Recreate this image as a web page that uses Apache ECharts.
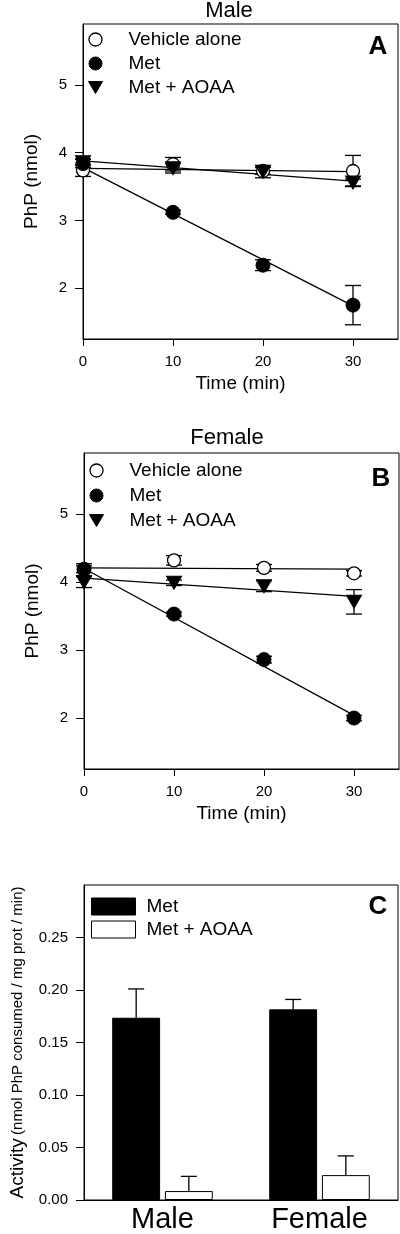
<!DOCTYPE html>
<html>
<head>
<meta charset="utf-8">
<script src="https://cdn.jsdelivr.net/npm/echarts@6/dist/echarts.min.js"></script>
<style>html,body{margin:0;padding:0;background:#fff}#c{width:400px;height:1234px}</style>
</head>
<body>
<div id="c"></div>
<script>
// ---- data ----
const times = [0, 10, 20, 30];
const xTicks = [0, 10, 20, 30];
const yTicksAB = [2, 3, 4, 5];
const yTicksC = [0, 0.05, 0.10, 0.15, 0.20, 0.25];

// Panel A (Male)
const maleVehicle = [3.74, 3.83, 3.73, 3.73];
const maleVehicleErr = [0.09, 0.10, 0.05, 0.23];
const maleMet = [3.84, 3.12, 2.34, 1.75];
const maleMetErr = [0.06, 0.03, 0.08, 0.29];
const maleAoaa = [3.86, 3.77, 3.72, 3.56];
const maleAoaaErr = [0.05, 0.07, 0.09, 0.05];
const fitTimes = [0, 30];
const maleVehicleFit = [3.77, 3.72];
const maleMetFit = [3.78, 1.74];
const maleAoaaFit = [3.88, 3.58];

// Panel B (Female)
const femaleVehicle = [4.18, 4.32, 4.21, 4.13];
const femaleVehicleErr = [0.09, 0.07, 0.05, 0.04];
const femaleMet = [4.19, 3.53, 2.86, 2.00];
const femaleMetErr = [0.05, 0.03, 0.05, 0.04];
const femaleAoaa = [4.00, 3.99, 3.94, 3.71];
const femaleAoaaErr = [0.08, 0.04, 0.08, 0.18];
const femaleVehicleFit = [4.21, 4.19];
const femaleMetFit = [4.20, 2.04];
const femaleAoaaFit = [4.06, 3.79];

// Panel C (activity)
const sexes = ['Male', 'Female'];
const actMet = [0.1736, 0.1816];
const actMetErr = [0.0274, 0.0094];
const actAoaa = [0.0085, 0.0237];
const actAoaaErr = [0.0140, 0.0183];

// ---- helpers ----
const FONT = 'Liberation Sans, Arial, Helvetica, sans-serif';
const TRI = 'path://M0,0L20,0L10,17Z';
const pts = (xs, ys) => xs.map((x, i) => [x, ys[i]]);
const errPts = (xs, ys, es) => xs.map((x, i) => [x, ys[i] - es[i], ys[i] + es[i]]);

function errRender(params, api) {
  const x = api.value(0), lo = api.value(1), hi = api.value(2);
  const a = api.coord([x, lo]), b = api.coord([x, hi]);
  const w = 8, st = {stroke: '#000', lineWidth: 1.3};
  return {type: 'group', children: [
    {type: 'line', shape: {x1: a[0], y1: a[1], x2: b[0], y2: b[1]}, style: st},
    {type: 'line', shape: {x1: a[0] - w, y1: a[1], x2: a[0] + w, y2: a[1]}, style: st},
    {type: 'line', shape: {x1: b[0] - w, y1: b[1], x2: b[0] + w, y2: b[1]}, style: st}
  ]};
}
function barErrRender(params, api) {
  const c = api.value(0), v = api.value(1), hi = api.value(2), side = api.value(3);
  const band = api.size([1, 0])[0];
  const off = side * band * 0.305 * 0.55;
  const a = api.coord([c, v]), b = api.coord([c, hi]);
  const x = a[0] + off, w = 8, st = {stroke: '#000', lineWidth: 1.3};
  return {type: 'group', children: [
    {type: 'line', shape: {x1: x, y1: a[1], x2: x, y2: b[1]}, style: st},
    {type: 'line', shape: {x1: x - w, y1: b[1], x2: x + w, y2: b[1]}, style: st}
  ]};
}

const axisLine = {show: true, lineStyle: {color: '#000', width: 1}};
function timeAxis(gi) {
  return {type: 'value', gridIndex: gi, min: 0, max: 35,
    name: 'Time (min)', nameLocation: 'middle', nameGap: 35,
    nameTextStyle: {fontSize: 19, color: '#000', fontFamily: FONT},
    axisLine: axisLine, splitLine: {show: false},
    axisTick: {show: true, length: 7, customValues: xTicks, lineStyle: {color: '#000'}},
    axisLabel: {customValues: xTicks, fontSize: 15, color: '#000', margin: 15, fontFamily: FONT}};
}
function phpAxis(gi) {
  return {type: 'value', gridIndex: gi, min: 1.25, max: 5.9,
    name: 'PhP (nmol)', nameLocation: 'middle', nameGap: 42,
    nameTextStyle: {fontSize: 19, color: '#000', fontFamily: FONT},
    axisLine: axisLine, splitLine: {show: false},
    axisTick: {show: true, length: 8, customValues: yTicksAB, lineStyle: {color: '#000'}},
    axisLabel: {customValues: yTicksAB, fontSize: 15, color: '#000', margin: 16, fontFamily: FONT}};
}

const openStyle = {color: '#fff', borderColor: '#000', borderWidth: 1.3, opacity: 1};
const fillStyle = {color: '#000', borderColor: '#000', borderWidth: 1, opacity: 1};

function panelSeries(gi, vehicle, vErr, met, mErr, aoaa, aErr, vFit, mFit, aFit) {
  const lineS = (name, ys) => ({type: 'line', name: name, xAxisIndex: gi, yAxisIndex: gi,
    data: pts(fitTimes, ys), symbol: 'none', lineStyle: {color: '#000', width: 1.3}, z: 1, silent: true});
  const errS = (name, ys, es) => ({type: 'custom', name: name, xAxisIndex: gi, yAxisIndex: gi,
    data: errPts(times, ys, es), renderItem: errRender, z: 2, silent: true});
  return [
    lineS('fitV' + gi, vFit), lineS('fitM' + gi, mFit), lineS('fitA' + gi, aFit),
    errS('errV' + gi, vehicle, vErr), errS('errM' + gi, met, mErr), errS('errA' + gi, aoaa, aErr),
    {type: 'scatter', name: 'Vehicle alone', xAxisIndex: gi, yAxisIndex: gi, data: pts(times, vehicle),
      symbol: 'circle', symbolSize: 13, itemStyle: openStyle, z: 3},
    {type: 'scatter', name: 'Met', xAxisIndex: gi, yAxisIndex: gi, data: pts(times, met),
      symbol: 'circle', symbolSize: 14, itemStyle: fillStyle, z: 4},
    {type: 'scatter', name: 'Met + AOAA', xAxisIndex: gi, yAxisIndex: gi, data: pts(times, aoaa),
      symbol: TRI, symbolSize: [15, 13], itemStyle: fillStyle, z: 5}
  ];
}

function lineLegend(top, left, gap) {
  return {left: left, top: top, orient: 'vertical', itemWidth: 14, itemHeight: 13, itemGap: gap,
    padding: 0, selectedMode: false,
    textStyle: {fontSize: 19, color: '#000', fontFamily: FONT, padding: [0, 0, 0, 21]},
    data: [
      {name: 'Vehicle alone', icon: 'circle', itemStyle: openStyle},
      {name: 'Met', icon: 'circle', itemStyle: fillStyle},
      {name: 'Met + AOAA', icon: TRI, itemStyle: fillStyle}
    ]};
}

const gridBase = {show: true, borderColor: '#000', borderWidth: 1, backgroundColor: 'transparent', containLabel: false};

const option = {
  animation: false,
  backgroundColor: '#fff',
  textStyle: {fontFamily: FONT},
  title: [
    {text: 'Male', left: 229, top: 0, textAlign: 'center', padding: 0, textStyle: {fontSize: 22, fontWeight: 'normal', color: '#000', fontFamily: FONT}},
    {text: 'Female', left: 227, top: 427, textAlign: 'center', padding: 0, textStyle: {fontSize: 22, fontWeight: 'normal', color: '#000', fontFamily: FONT}},
    {text: 'A', left: 378, top: 34, textAlign: 'center', padding: 0, textStyle: {fontSize: 26, fontWeight: 'bold', color: '#000', fontFamily: FONT}},
    {text: 'B', left: 381, top: 466, textAlign: 'center', padding: 0, textStyle: {fontSize: 26, fontWeight: 'bold', color: '#000', fontFamily: FONT}},
    {text: 'C', left: 378, top: 894, textAlign: 'center', padding: 0, textStyle: {fontSize: 26, fontWeight: 'bold', color: '#000', fontFamily: FONT}}
  ],
  legend: [
    lineLegend(30, 88, 5),
    lineLegend(461, 89, 6),
    {left: 91, top: 897, orient: 'vertical', itemWidth: 44, itemHeight: 17, itemGap: 4, padding: 0,
      selectedMode: false, textStyle: {fontSize: 19, color: '#000', fontFamily: FONT, padding: [0, 0, 0, 6]},
      data: [
        {name: 'Met', icon: 'rect', itemStyle: {color: '#000', borderColor: '#000', borderWidth: 1, opacity: 1}},
        {name: 'Met + AOAA', icon: 'rect', itemStyle: {color: '#fff', borderColor: '#000', borderWidth: 1, opacity: 1}}
      ]}
  ],
  grid: [
    Object.assign({left: 83, top: 24, width: 315, height: 315}, gridBase),
    Object.assign({left: 84, top: 453, width: 315, height: 316}, gridBase),
    Object.assign({left: 83, top: 885, width: 315, height: 316}, gridBase)
  ],
  xAxis: [
    timeAxis(0), timeAxis(1),
    {type: 'category', gridIndex: 2, data: sexes, axisLine: axisLine,
      axisTick: {show: false}, splitLine: {show: false},
      axisLabel: {fontSize: 29, color: '#000', margin: 5, fontFamily: FONT}}
  ],
  yAxis: [
    phpAxis(0), phpAxis(1),
    {type: 'value', gridIndex: 2, min: 0, max: 0.3,
      name: '{a|Activity} {b|(nmol PhP consumed / mg prot / min)}', nameLocation: 'middle', nameGap: 57,
      nameTextStyle: {color: '#000', fontFamily: FONT, rich: {
        a: {fontSize: 19, color: '#000', fontFamily: FONT},
        b: {fontSize: 15, color: '#000', fontFamily: FONT}}},
      axisLine: axisLine, splitLine: {show: false},
      axisTick: {show: true, length: 8, customValues: yTicksC, lineStyle: {color: '#000'}},
      axisLabel: {customValues: yTicksC, fontSize: 15, color: '#000', margin: 16, fontFamily: FONT,
        formatter: v => v.toFixed(2)}}
  ],
  series: [
    ...panelSeries(0, maleVehicle, maleVehicleErr, maleMet, maleMetErr, maleAoaa, maleAoaaErr, maleVehicleFit, maleMetFit, maleAoaaFit),
    ...panelSeries(1, femaleVehicle, femaleVehicleErr, femaleMet, femaleMetErr, femaleAoaa, femaleAoaaErr, femaleVehicleFit, femaleMetFit, femaleAoaaFit),
    {type: 'bar', name: 'Met', xAxisIndex: 2, yAxisIndex: 2, data: actMet, barWidth: '30.5%', barGap: '10%',
      itemStyle: {color: '#000', borderColor: '#000', borderWidth: 1}, z: 2},
    {type: 'bar', name: 'Met + AOAA', xAxisIndex: 2, yAxisIndex: 2, data: actAoaa, barWidth: '30.5%', barGap: '10%',
      itemStyle: {color: '#fff', borderColor: '#000', borderWidth: 1}, z: 2},
    {type: 'custom', name: 'errBarMet', xAxisIndex: 2, yAxisIndex: 2, renderItem: barErrRender, z: 3, silent: true,
      data: sexes.map((s, i) => [i, actMet[i], actMet[i] + actMetErr[i], -1])},
    {type: 'custom', name: 'errBarAoaa', xAxisIndex: 2, yAxisIndex: 2, renderItem: barErrRender, z: 3, silent: true,
      data: sexes.map((s, i) => [i, actAoaa[i], actAoaa[i] + actAoaaErr[i], 1])}
  ]
};

const chart = echarts.init(document.getElementById('c'), null, {renderer: 'canvas'});
chart.setOption(option);
</script>
</body>
</html>
